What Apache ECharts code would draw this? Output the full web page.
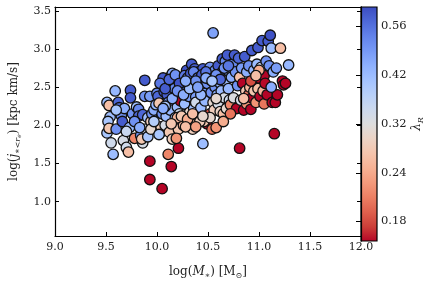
<!DOCTYPE html>
<html><head><meta charset="utf-8">
<script src="https://cdn.jsdelivr.net/npm/echarts@6/dist/echarts.min.js"></script>
<style>html,body{margin:0;padding:0;background:#fff}#c{width:432px;height:285px}</style>
</head><body><div id="c"></div>
<script>
// log stellar mass
const logM = [
9.51,9.53,9.54,9.52,9.51,9.53,9.55,9.57,9.59,9.60,9.62,9.63,9.65,9.66,9.68,9.67,9.70,9.72,9.73,9.74,
9.74,9.76,9.78,9.80,9.82,9.82,9.84,9.86,9.85,9.86,9.88,9.88,9.89,9.91,9.91,9.93,9.94,9.94,9.95,9.97,
9.99,10.00,10.01,10.02,10.03,10.04,10.05,10.06,10.07,10.08,10.09,10.10,10.10,10.11,10.12,10.13,10.14,10.15,10.15,10.16,
10.17,10.18,10.19,10.20,10.21,10.21,10.22,10.23,10.24,10.25,10.25,10.26,10.27,10.28,10.29,10.30,10.31,10.31,10.32,10.33,
10.34,10.34,10.35,10.36,10.36,10.37,10.38,10.38,10.39,10.40,10.41,10.42,10.43,10.44,10.45,10.46,10.47,10.47,10.49,10.49,
10.50,10.52,10.52,10.53,10.54,10.55,10.55,10.56,10.57,10.57,10.58,10.59,10.60,10.60,10.61,10.62,10.62,10.63,10.64,10.64,
10.65,10.66,10.67,10.67,10.68,10.69,10.69,10.70,10.71,10.72,10.73,10.74,10.75,10.76,10.77,10.78,10.79,10.80,10.81,10.82,
10.83,10.84,10.85,10.86,10.87,10.88,10.88,10.90,10.90,10.91,10.92,10.93,10.93,10.95,10.95,10.96,10.97,10.98,10.99,10.99,
11.00,11.01,11.02,11.03,11.04,11.05,11.05,11.07,11.08,11.09,11.10,11.11,11.12,11.13,11.14,11.16,11.17,11.18,11.21,11.23,
11.24,11.26,11.29,10.81,11.15,10.55,9.93,9.93,10.05,10.14,10.21,10.11,10.45,
10.03,10.08,10.12,10.18,10.22,10.27,10.30,10.33,10.36,10.40,10.44,10.48,10.52,10.58,10.62,10.66,10.70,10.08,10.15,10.20,
10.26,10.32,10.38,10.43,10.48,10.54,10.58,9.97,10.02,10.06,9.78,9.83,9.60,9.70,10.35,10.46,10.52,10.65,10.72,10.85,
10.92,11.00,11.06,10.97,11.12,10.40,10.28,10.18,
10.20,10.24,10.30,10.35,10.42,10.28,10.14,10.38,10.45,10.19
];
// log specific angular momentum within r_e
const logJ = [
2.30,2.26,2.11,2.05,1.90,1.96,1.77,1.62,2.45,1.95,2.30,2.23,2.13,2.05,2.22,1.80,1.71,1.65,1.97,2.46,
2.36,2.15,1.83,2.24,2.21,2.12,1.87,1.77,1.82,2.14,2.59,2.38,1.95,1.85,2.10,2.38,2.05,1.95,2.15,2.20,
2.27,2.42,2.38,2.29,1.90,1.98,2.15,2.62,2.44,2.00,2.12,2.53,2.40,2.30,1.91,2.20,2.65,1.82,2.68,2.57,
2.48,2.38,2.05,2.24,2.62,1.95,2.15,2.32,2.60,2.48,2.06,2.00,2.28,2.14,2.72,2.55,2.44,2.38,2.17,2.02,
2.80,2.64,2.53,2.22,2.05,2.74,2.37,2.30,2.61,2.12,2.70,2.51,2.23,2.61,2.74,2.42,2.10,2.32,2.55,2.02,
2.68,2.15,2.76,2.43,1.95,2.30,2.62,2.20,2.50,2.72,1.97,2.40,2.78,2.28,2.65,2.18,2.55,2.45,2.87,2.70,
2.15,2.36,2.84,2.58,2.22,2.92,2.72,2.48,2.33,2.27,2.63,2.80,2.36,2.92,2.70,2.22,2.52,2.88,2.63,2.33,
2.75,2.55,2.20,2.90,2.45,2.28,2.70,2.40,2.78,2.50,2.21,2.98,2.36,2.72,2.45,2.57,2.30,2.80,3.02,2.48,
2.62,2.38,2.76,3.11,2.45,2.28,2.65,2.84,2.40,3.10,2.78,3.18,3.01,2.30,2.70,2.30,2.75,2.40,3.01,2.58,
2.53,2.55,2.79,1.70,1.89,3.21,1.53,1.29,1.17,1.46,1.70,1.62,1.76,
2.55,2.48,2.60,2.66,2.55,2.65,2.62,2.68,2.70,2.62,2.66,2.70,2.60,2.66,2.60,2.75,2.78,2.25,2.35,2.45,
2.40,2.48,2.58,2.40,2.62,2.58,2.35,2.05,1.88,2.22,2.05,1.97,2.20,1.92,1.95,2.05,2.10,2.05,2.15,2.35,
2.58,2.72,2.55,2.65,2.50,2.50,2.58,2.10,
2.10,2.12,2.08,2.15,2.05,1.98,2.02,1.98,2.12,1.83
];
// lambda_R (colour)
const lambdaR = [
0.42,0.26,0.42,0.40,0.40,0.27,0.34,0.42,0.43,0.50,0.58,0.57,0.50,0.60,0.45,0.33,0.34,0.26,0.43,0.60,
0.60,0.50,0.21,0.42,0.52,0.58,0.50,0.33,0.27,0.58,0.60,0.50,0.33,0.40,0.42,0.48,0.28,0.30,0.50,0.45,
0.43,0.52,0.58,0.27,0.42,0.28,0.50,0.60,0.60,0.33,0.42,0.52,0.60,0.50,0.27,0.43,0.50,0.28,0.45,0.60,
0.52,0.48,0.26,0.42,0.60,0.27,0.34,0.15,0.50,0.60,0.22,0.25,0.42,0.33,0.62,0.50,0.32,0.48,0.30,0.23,
0.60,0.50,0.45,0.42,0.25,0.60,0.48,0.34,0.50,0.33,0.62,0.45,0.42,0.52,0.60,0.48,0.32,0.43,0.50,0.16,
0.58,0.18,0.50,0.50,0.20,0.30,0.58,0.28,0.50,0.50,0.22,0.45,0.60,0.33,0.50,0.29,0.43,0.42,0.60,0.60,
0.26,0.33,0.52,0.42,0.30,0.60,0.50,0.43,0.34,0.21,0.45,0.52,0.32,0.60,0.50,0.15,0.50,0.58,0.26,0.33,
0.48,0.15,0.15,0.60,0.27,0.22,0.45,0.20,0.50,0.25,0.15,0.60,0.15,0.43,0.27,0.15,0.22,0.42,0.60,0.26,
0.14,0.15,0.35,0.60,0.25,0.20,0.15,0.50,0.15,0.60,0.50,0.62,0.42,0.14,0.45,0.15,0.48,0.14,0.26,0.14,
0.15,0.14,0.43,0.15,0.15,0.47,0.14,0.14,0.14,0.14,0.15,0.21,0.42,
0.55,0.60,0.58,0.50,0.62,0.55,0.48,0.60,0.52,0.58,0.60,0.55,0.45,0.50,0.58,0.50,0.55,0.40,0.45,0.50,
0.45,0.42,0.50,0.43,0.45,0.40,0.30,0.38,0.40,0.45,0.50,0.45,0.40,0.35,0.28,0.27,0.30,0.24,0.20,0.26,
0.18,0.24,0.16,0.26,0.45,0.47,0.45,0.40,
0.25,0.27,0.24,0.26,0.28,0.26,0.27,0.23,0.30,0.22
];
const xTicks = [9.0,9.5,10.0,10.5,11.0,11.5,12.0];
const yTicks = [1.0,1.5,2.0,2.5,3.0,3.5];
const cbTickExps = [-0.75,-0.625,-0.5,-0.375,-0.25]; // labels 0.18 .. 0.56
const cbMin = -0.8, cbMax = -0.2;

const coolwarm = ['#3b4cc0','#4d68d7','#6282ea','#7699f6','#8db0fe','#a3c2ff','#b8d0f9','#ccd9ee','#dddddd',
  '#ecd3c5','#f5c4ac','#f7b194','#f49a7b','#ec7f63','#de604d','#cb3e38','#b40426'];
const coolwarmR = coolwarm.slice().reverse();

const pts = logM.map((m,i)=>[m, logJ[i], Math.log10(lambdaR[i])]);

const serif = 'DejaVu Serif';
const chart = echarts.init(document.getElementById('c'), null, {renderer:'canvas'});
const stops = coolwarmR.map((c,i)=>({offset:i/(coolwarmR.length-1), color:c}));
const axisLineStyle = {color:'#000', width:1.2};
const rich = {
  n:{fontFamily:serif,fontSize:12,color:'#222',lineHeight:16,verticalAlign:'middle'},
  i:{fontFamily:serif,fontSize:12,color:'#222',fontStyle:'italic',lineHeight:16,verticalAlign:'middle'},
  s:{fontFamily:serif,fontSize:8,color:'#222',lineHeight:9,verticalAlign:'bottom'},
  si:{fontFamily:serif,fontSize:8,color:'#222',fontStyle:'italic',lineHeight:9,verticalAlign:'bottom'},
  ss:{fontFamily:serif,fontSize:6,color:'#222',fontStyle:'italic',lineHeight:5,verticalAlign:'bottom'}
};
chart.setOption({
  animation:false,
  backgroundColor:'#fff',
  grid:[
    {left:53, top:7, width:308, height:234},
    {left:361, top:7, width:16, height:234}
  ],
  xAxis:[
    {type:'value', gridIndex:0, min:9, max:12, interval:0.5, position:'bottom',
     axisLine:{lineStyle:axisLineStyle}, axisTick:{inside:true,length:4,lineStyle:{color:'#000'}},
     axisLabel:{fontFamily:serif,fontSize:11,color:'#222',margin:6,formatter:v=>v.toFixed(1)},
     splitLine:{show:false},
     name:'{n|log(}{i|M}{s|∗}{n|) [M}{s|⊙}{n|]}', nameLocation:'middle', nameGap:28,
     nameTextStyle:{rich:rich}},
    {type:'value', gridIndex:0, min:9, max:12, interval:0.5, position:'top',
     axisLine:{lineStyle:axisLineStyle}, axisTick:{inside:true,length:4,lineStyle:{color:'#000'}},
     axisLabel:{show:false}, splitLine:{show:false}},
    {type:'value', gridIndex:1, min:0, max:1, show:false}
  ],
  yAxis:[
    {type:'value', gridIndex:0, min:0.55, max:3.55, position:'left',
     axisLine:{lineStyle:axisLineStyle},
     axisTick:{inside:true,length:4,lineStyle:{color:'#000'},customValues:yTicks},
     axisLabel:{fontFamily:serif,fontSize:11,color:'#222',margin:4,customValues:yTicks,formatter:v=>v.toFixed(1)},
     splitLine:{show:false},
     name:'{n|log(}{i|j}{si|∗<r}{ss|e}{n|) [kpc km/s]}', nameLocation:'middle', nameGap:33, nameRotate:90,
     nameTextStyle:{rich:rich}},
    {type:'value', gridIndex:0, min:0.55, max:3.55, position:'right',
     axisLine:{lineStyle:axisLineStyle},
     axisTick:{inside:true,length:4,lineStyle:{color:'#000'},customValues:yTicks},
     axisLabel:{show:false}, splitLine:{show:false}},
    {type:'value', gridIndex:1, min:cbMin, max:cbMax, position:'right', z:10,
     axisLine:{show:true,lineStyle:axisLineStyle},
     axisTick:{inside:true,length:5,lineStyle:{color:'#000'},customValues:cbTickExps},
     axisLabel:{fontFamily:serif,fontSize:11.5,color:'#222',margin:4,customValues:cbTickExps,
       formatter:v=>Math.pow(10,v).toFixed(2)},
     splitLine:{show:false},
     name:'{i|λ}{si|R}', nameLocation:'middle', nameGap:32, nameRotate:90,
     nameTextStyle:{rich:rich}}
  ],
  visualMap:[{type:'continuous', show:false, seriesIndex:0, dimension:2, min:cbMin, max:cbMax,
    inRange:{color:coolwarmR}}],
  series:[
    {type:'scatter', xAxisIndex:0, yAxisIndex:0, data:pts, symbolSize:10.5,
     itemStyle:{borderColor:'#111', borderWidth:1.3, opacity:1}},
    {type:'custom', xAxisIndex:2, yAxisIndex:2, data:[[0,cbMin,1,cbMax]],
     renderItem:(params,api)=>{
       const p0 = api.coord([api.value(0), api.value(1)]);
       const p1 = api.coord([api.value(2), api.value(3)]);
       return {type:'rect', shape:{x:p0[0], y:p1[1], width:p1[0]-p0[0], height:p0[1]-p1[1]},
         style:{fill:new echarts.graphic.LinearGradient(0,1,0,0,stops), stroke:'#000', lineWidth:1.2}};
     }}
  ]
});
</script></body></html>
